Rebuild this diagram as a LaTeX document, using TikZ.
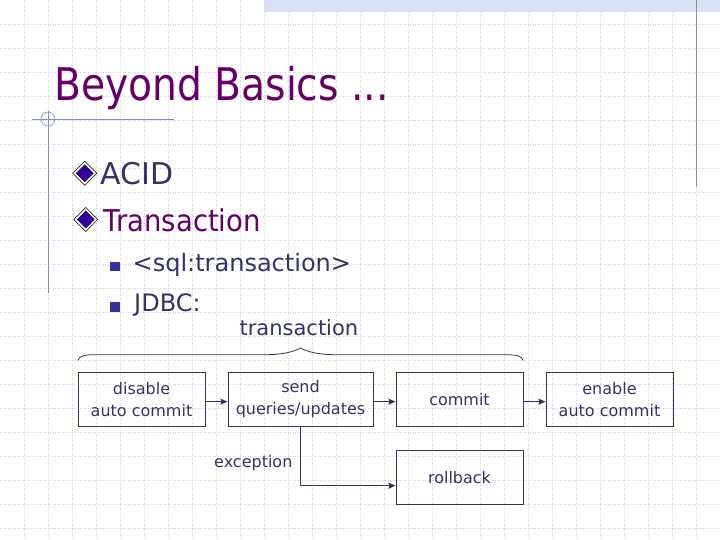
\documentclass[tikz,border=0pt]{standalone}
\usepackage{fontspec}
\setmainfont{DejaVu Sans}
\usepackage{graphicx}
\usetikzlibrary{arrows.meta}
\definecolor{ttl}{HTML}{660066}
\definecolor{txt}{HTML}{333366}
\definecolor{boxc}{HTML}{333355}
\definecolor{deco}{HTML}{8090B8}
\definecolor{gridc}{HTML}{CFCFD4}
\definecolor{band}{HTML}{D8E1F3}
\definecolor{dfill}{HTML}{330099}
\definecolor{sqc}{HTML}{333399}
\begin{document}
\begin{tikzpicture}[x=1pt,y=-1pt,
  gridline/.style={gridc, line width=0.5pt, dash pattern=on 1pt off 1.5pt},
  stepbox/.style={draw=boxc, line width=1pt, minimum height=54pt, inner sep=0pt, align=center, text=txt, font=\fontsize{16}{21.6}\selectfont},
  arr/.style={draw=boxc, line width=1.5pt, -{Stealth[length=7pt,width=6pt,inset=1pt]}},
  lbl/.style={inner sep=0pt, anchor=base west},
  clbl/.style={inner sep=0pt, anchor=base, text=txt},
  decoline/.style={deco, line width=0.8pt},
]
\useasboundingbox (0,0) rectangle (720,540);
\fill[white] (0,0) rectangle (720,540);
% background grid
\foreach \i in {1,...,29} \draw[gridline] (24*\i,0) -- (24*\i,540);
\foreach \j in {1,...,22} \draw[gridline] (0,24*\j) -- (720,24*\j);
% top band and decorative lines
\fill[band] (264,0) rectangle (720,12.3);
\draw[deco, line width=1pt] (696,0) -- (696,186.7);
\draw[decoline] (32,119) -- (174,119);
\draw[decoline] (48,111) -- (48,293);
\draw[deco, line width=0.6pt] (48,119) circle[radius=7];
% diamond bullets
\foreach \cx/\cy in {84.7/173.3, 85.8/219.5} {
  \filldraw[fill=white, draw=black, line width=0.5pt] (\cx-12,\cy) -- (\cx,\cy-12) -- (\cx+12,\cy) -- (\cx,\cy+12) -- cycle;
  \filldraw[fill=dfill, draw=dfill!60!black, line width=0.5pt] (\cx-8.5,\cy) -- (\cx,\cy-8.5) -- (\cx+8.5,\cy) -- (\cx,\cy+8.5) -- cycle;
}
% square bullets
\fill[sqc] (110,262.3) rectangle (120,271);
\fill[sqc] (110,302.3) rectangle (120,312);
% texts
\node[lbl, text=ttl, font=\fontsize{45}{54}\selectfont] (title) at (53.9,101) {\scalebox{0.872}[1]{Beyond Basics ...}};
\node[lbl, text=txt, font=\fontsize{30}{36}\selectfont] (acid) at (100.5,184.3) {ACID};
\node[lbl, text=ttl, font=\fontsize{30}{36}\selectfont] (trans) at (103.3,231) {\scalebox{0.916}[1]{Transaction}};
\node[lbl, text=txt, font=\fontsize{24}{28}\selectfont] (sql) at (132.5,271.5) {<sql:transaction>};
\node[lbl, text=txt, font=\fontsize{24}{28}\selectfont] (jdbc) at (134,311.7) {JDBC:};
\node[clbl, font=\fontsize{21}{25}\selectfont] (tlabel) at (298.9,335.7) {transaction};
% brace
\draw[boxc, line width=0.8pt] (78,360.5) .. controls (79,356) and (84,354.7) .. (95,354.7) -- (265,354.7)
  .. controls (285,354.7) and (295,351) .. (300.5,348) .. controls (306,351) and (316,354.7) .. (336,354.7)
  -- (506,354.7) .. controls (517,354.7) and (522,356) .. (523,360.5);
% boxes
\node[stepbox, minimum width=127pt] (b1) at (141.5,399.3) {disable\\auto commit};
\node[stepbox, minimum width=145pt] (b2) at (300.5,399.3) {send\\queries/updates};
\node[stepbox, minimum width=127pt] (b3) at (459.5,399.3) {commit};
\node[stepbox, minimum width=127pt] (b4) at (459.5,477.3) {rollback};
\node[stepbox, minimum width=127pt] (b5) at (609.5,399.3) {enable\\auto commit};
% connectors
\draw[arr] ([yshift=-2.4pt]b1.east) -- ([yshift=-2.4pt]b2.west);
\draw[arr] ([yshift=-2.4pt]b2.east) -- ([yshift=-2.4pt]b3.west);
\draw[arr] ([yshift=-2.4pt]b3.east) -- ([yshift=-2.4pt]b5.west);
\draw[arr] (b2.south) |- ([yshift=-8.4pt]b4.west);
\node[clbl, font=\fontsize{16}{20}\selectfont] (exc) at (253.3,467.5) {exception};
\end{tikzpicture}
\end{document}
